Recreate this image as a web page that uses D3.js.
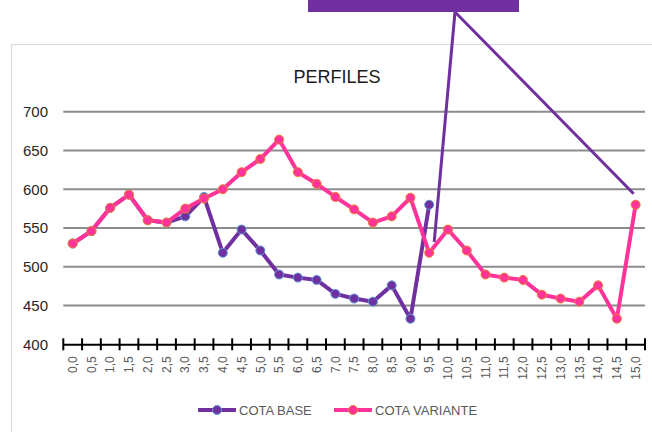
<!DOCTYPE html>
<html><head><meta charset="utf-8">
<script src="https://cdn.jsdelivr.net/npm/d3@7"></script>
<style>
html,body{margin:0;padding:0;background:#fff;}
svg{display:block;}
text{font-family:"Liberation Sans",Arial,sans-serif;}
</style></head>
<body>
<script>
const categories = ["0,0","0,5","1,0","1,5","2,0","2,5","3,0","3,5","4,0","4,5","5,0","5,5","6,0","6,5","7,0","7,5","8,0","8,5","9,0","9,5","10,0","10,5","11,0","11,5","12,0","12,5","13,0","13,5","14,0","14,5","15,0"];
const cotaBase = [530,546,576,593,560,557,565,590,518,548,521,490,486,483,465,459,455,476,433,580];
const cotaVariante = [530,546,576,593,560,557,575,588,600,622,639,664,622,607,590,574,557,565,589,518,548,521,490,486,483,464,459,455,476,433,580];
const yTicks = [400,450,500,550,600,650,700];
const seriesNames = ["COTA BASE","COTA VARIANTE"];
const calloutTargets = ["9,5","15,0"];

const W = 652, H = 432;
const svg = d3.select("body").append("svg").attr("width", W).attr("height", H);

// chart frame
svg.append("rect").attr("x", 11.5).attr("y", 44.5).attr("width", 700).attr("height", 500)
  .attr("fill", "#fff").attr("stroke", "#d9d9d9").attr("stroke-width", 1);

const x = d3.scaleBand().domain(categories).range([63.3, 645]);
const y = d3.scaleLinear().domain([400, 700]).range([344.3, 111.7]);
const cx = c => x(c) + x.bandwidth() / 2;

// title
svg.append("text").attr("x", 337).attr("y", 83).attr("text-anchor", "middle")
  .attr("font-size", 18).attr("fill", "#1a1a1a").text("PERFILES");

// gridlines
svg.append("g").selectAll("line").data(yTicks.filter(d => d > 400)).join("line")
  .attr("x1", 63.3).attr("x2", 645).attr("y1", d => y(d)).attr("y2", d => y(d))
  .attr("stroke", "#8c8c8c").attr("stroke-width", 2);

// y labels
svg.append("g").selectAll("text").data(yTicks).join("text")
  .attr("x", 48).attr("y", d => y(d)).attr("dy", "0.36em").attr("text-anchor", "end")
  .attr("font-size", 15).attr("fill", "#262626").text(d => d);

// x axis
const xAxis = d3.axisBottom(x).tickSize(0).tickFormat("");
const gx = svg.append("g").attr("transform", `translate(0,${y(400)})`).call(xAxis);
gx.select(".domain").attr("stroke", "#000").attr("stroke-width", 2);
const boundaries = categories.map(c => x(c)).concat([x.range()[1]]);
svg.append("g").selectAll("line").data(boundaries).join("line")
  .attr("x1", d => d).attr("x2", d => d).attr("y1", y(400) - 6).attr("y2", y(400) + 6)
  .attr("stroke", "#000").attr("stroke-width", 2);
svg.append("g").selectAll("text").data(categories).join("text")
  .attr("transform", d => `translate(${cx(d)},${y(400) + 12}) rotate(-90)`)
  .attr("text-anchor", "end").attr("dy", "0.35em")
  .attr("font-size", 12).attr("fill", "#595959").text(d => d);

// series
const series = [
  {name: seriesNames[0], values: cotaBase, line: "#7030a0", fill: "#7030a0", stroke: "#5b9bd5"},
  {name: seriesNames[1], values: cotaVariante, line: "#ff3399", fill: "#ff3399", stroke: "#ed7d31"}
];
const lineGen = d3.line().x((d, i) => cx(categories[i])).y(d => y(d));
series.forEach(s => {
  svg.append("path").datum(s.values).attr("d", lineGen).attr("fill", "none")
    .attr("stroke", s.line).attr("stroke-width", 4).attr("stroke-linejoin", "round");
  svg.append("g").selectAll("circle").data(s.values).join("circle")
    .attr("cx", (d, i) => cx(categories[i])).attr("cy", d => y(d)).attr("r", 4.5)
    .attr("fill", s.fill).attr("stroke", s.stroke).attr("stroke-width", 1);
});

// legend
const leg = [{x0: 198, tx: 239}, {x0: 334, tx: 375}];
series.forEach((s, i) => {
  const g = svg.append("g");
  g.append("line").attr("x1", leg[i].x0).attr("x2", leg[i].x0 + 38).attr("y1", 410).attr("y2", 410)
    .attr("stroke", s.line).attr("stroke-width", 4);
  g.append("circle").attr("cx", leg[i].x0 + 19).attr("cy", 410).attr("r", 4.5)
    .attr("fill", s.fill).attr("stroke", s.stroke).attr("stroke-width", 1);
  g.append("text").attr("x", leg[i].tx).attr("y", 410).attr("dy", "0.36em")
    .attr("font-size", 13).attr("fill", "#595959").text(s.name);
});

// callout box and leader lines
svg.append("rect").attr("x", 308).attr("y", -5).attr("width", 211).attr("height", 17).attr("fill", "#7030a0");
const offsets = [[5, -11], [-2, -11]];
calloutTargets.forEach((c, i) => {
  const idx = categories.indexOf(c);
  svg.append("line").attr("x1", 455).attr("y1", 12)
    .attr("x2", cx(c) + offsets[i][0]).attr("y2", y(cotaVariante[idx]) + offsets[i][1])
    .attr("stroke", "#7030a0").attr("stroke-width", 3);
});
</script>
</body></html>
